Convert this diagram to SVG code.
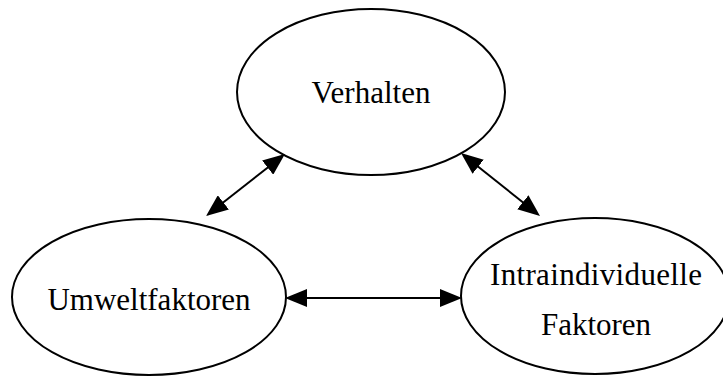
<svg xmlns="http://www.w3.org/2000/svg" width="723" height="376" viewBox="0 0 723 376">
<style>
.node{fill:#fff;stroke:#000;stroke-width:2}
.lbl{font-family:"Liberation Serif","Times New Roman",serif;font-size:31px;fill:#000;text-anchor:middle}
.conn{stroke:#000;stroke-width:2;fill:none;marker-start:url(#ah);marker-end:url(#ah)}
</style>
<defs>
<marker id="ah" viewBox="0 0 22 18" refX="12" refY="9" markerWidth="22" markerHeight="18" markerUnits="userSpaceOnUse" orient="auto-start-reverse">
<path d="M0,0 L22,9 L0,18 z" fill="#000"/>
</marker>
</defs>
<rect width="723" height="376" fill="#fff"/>
<g id="verhalten">
<ellipse class="node" cx="371" cy="92" rx="134" ry="83"/>
<text class="lbl" x="371" y="103">Verhalten</text>
</g>
<g id="umweltfaktoren">
<ellipse class="node" cx="149" cy="297" rx="137" ry="78"/>
<text class="lbl" x="149" y="310">Umweltfaktoren</text>
</g>
<g id="intraindividuelle">
<ellipse class="node" cx="595" cy="296" rx="134" ry="78"/>
<text class="lbl" x="596" y="285" textLength="212" lengthAdjust="spacing">Intraindividuelle</text>
<text class="lbl" x="596" y="335">Faktoren</text>
</g>
<g id="connectors">
<line class="conn" x1="213.9" y1="209.8" x2="277.1" y2="160.2"/>
<line class="conn" x1="468.8" y1="159.2" x2="532.2" y2="209.8"/>
<line class="conn" x1="295" y1="298" x2="452" y2="298"/>
</g>
</svg>
